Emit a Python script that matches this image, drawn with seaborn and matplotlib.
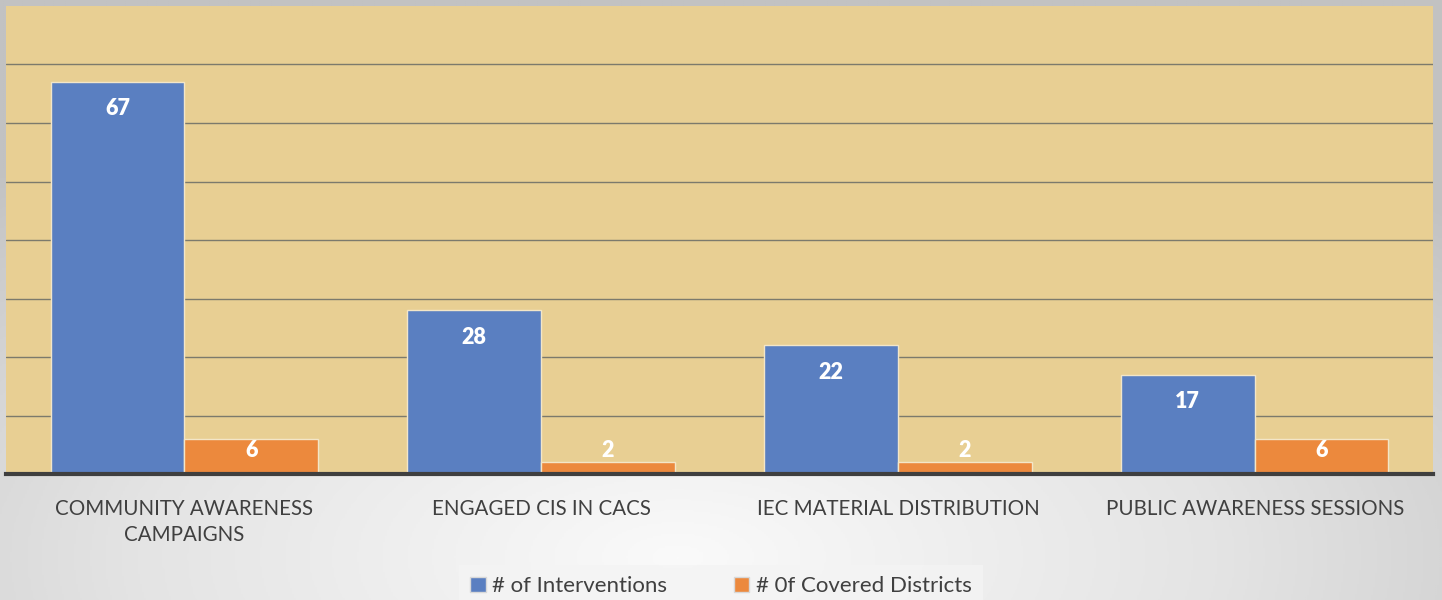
import numpy as np
import pandas as pd
import matplotlib
matplotlib.use("Agg")
import matplotlib.pyplot as plt
import seaborn as sns

categories = ["COMMUNITY AWARENESS\nCAMPAIGNS", "ENGAGED CIS IN CACS",
              "IEC MATERIAL DISTRIBUTION", "PUBLIC AWARENESS SESSIONS"]
interventions = [67, 28, 22, 17]
covered_districts = [6, 2, 2, 6]
series_names = ["# of Interventions", "# 0f Covered Districts"]

sns.set_theme(style="white")
plt.rcParams["font.family"] = ["Lato", "DejaVu Sans"]

df = pd.DataFrame({
    "category": categories * 2,
    "value": interventions + covered_districts,
    "series": [series_names[0]] * 4 + [series_names[1]] * 4,
})

fig = plt.figure(figsize=(14.42, 6), dpi=100)

# grey slide background
bg = fig.add_axes([0, 0, 1, 1], zorder=-10)
yy, xx = np.mgrid[0:1:300j, 0:1:700j]
dist = np.sqrt(((xx - 0.47) * 1.0) ** 2 + ((yy - 0.93) * 0.9) ** 2)
bg.imshow(dist, cmap=matplotlib.colors.LinearSegmentedColormap.from_list(
    "g", ["#fafafa", "#e4e4e4", "#c2c2c2"]), aspect="auto",
    extent=[0, 1, 0, 1], vmin=0, vmax=0.75)
bg.axis("off")

ax = fig.add_axes([0.0042, 0.21, 0.9896, 0.78])
ax.set_facecolor("#e8cf93")

sns.barplot(data=df, x="category", y="value", hue="series",
            palette=["#5a7fc1", "#ec893d"], saturation=1, width=0.75, gap=0,
            edgecolor="#f3e6c8", linewidth=1, ax=ax, zorder=3)

ax.set_ylim(0, 80)
ax.set_xlim(-0.5, 3.5)
ax.set_yticks(range(10, 80, 10))
ax.yaxis.grid(True, color="#7c7a6c", linewidth=1)
ax.set_axisbelow(True)
ax.tick_params(axis="y", left=False, labelleft=False)
ax.tick_params(axis="x", bottom=False, pad=12, labelsize=14.8, labelcolor="#404040")
for lbl in ax.get_xticklabels():
    lbl.set_linespacing(1.4)
ax.set_xlabel("")
ax.set_ylabel("")
for s in ["top", "right", "left"]:
    ax.spines[s].set_visible(False)
ax.spines["bottom"].set_color("#3f3f3f")
ax.spines["bottom"].set_linewidth(3)
ax.spines["bottom"].set_zorder(5)

for cont in ax.containers:
    for bar in cont:
        v = bar.get_height()
        ypos = max(v - 4.6, 4.1)
        ax.text(bar.get_x() + bar.get_width() / 2, ypos, f"{int(v)}",
                ha="center", va="center", color="white", fontsize=15.5,
                fontweight="heavy", zorder=6)

ax.get_legend().remove()
handles = [plt.Rectangle((0, 0), 1, 1, facecolor=c, edgecolor="#d8d8d8")
           for c in ["#5a7fc1", "#ec893d"]]
leg = fig.legend(handles, series_names, loc="lower center", ncol=2,
                 bbox_to_anchor=(0.5, -0.012), frameon=True, fontsize=16,
                 handlelength=0.7, handleheight=0.7, handletextpad=0.3,
                 columnspacing=3.0, borderpad=0.5, borderaxespad=0,
                 fancybox=False)
leg.get_frame().set_facecolor("#f4f4f4")
leg.get_frame().set_edgecolor("none")
for t in leg.get_texts():
    t.set_color("#404040")

fig.savefig("out.png", dpi=100)
print("saved: out.png")
